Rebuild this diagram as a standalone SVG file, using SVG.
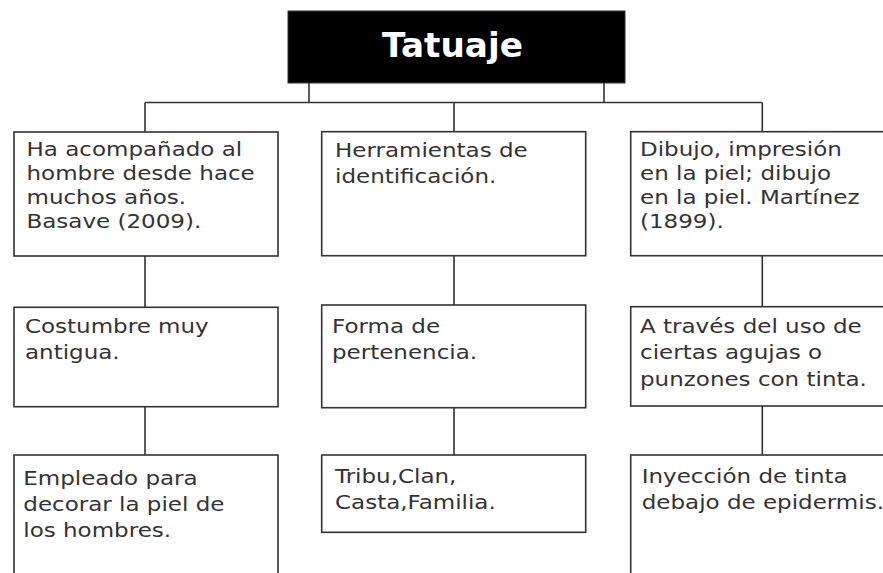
<svg xmlns="http://www.w3.org/2000/svg" width="883" height="573" viewBox="0 0 883 573">
<style>
.box{fill:#fff;stroke:#333;stroke-width:1.6}
.ln{fill:none;stroke:#333;stroke-width:1.6}
.t{font-family:"DejaVu Sans","Liberation Sans",sans-serif;font-size:19.5px;fill:#333}
.title{font-family:"DejaVu Sans","Liberation Sans",sans-serif;font-size:34px;font-weight:bold;fill:#fff}
</style>
<rect width="883" height="573" fill="#fff"/>
<g id="connectors">
<path class="ln" d="M309,83V102.5M604,83V102.5M145,102.5H762.3M145,102.5V132M454,102.5V132M762.3,102.5V132"/>
<path class="ln" d="M145,256V307.3M454,256V305M762.3,256V306.7"/>
<path class="ln" d="M145,406.7V455M454,407.7V455M762.3,406V455"/>
</g>
<g id="title">
<rect x="288" y="11" width="337" height="72" fill="#000" stroke="#333" stroke-width="1"/>
<text class="title" x="382" y="57" textLength="141" lengthAdjust="spacingAndGlyphs">Tatuaje</text>
</g>
<g id="n1">
<rect class="box" x="14" y="132" width="264" height="124"/>
<g class="t" transform="translate(26.5,156) scale(1.18,1)">
<text y="0">Ha acompañado al</text>
<text y="24">hombre desde hace</text>
<text y="48">muchos años.</text>
<text y="72">Basave (2009).</text>
</g>
</g>
<g id="n2">
<rect class="box" x="321.7" y="131.7" width="264" height="124"/>
<g class="t" transform="translate(335,157) scale(1.18,1)">
<text y="0">Herramientas de</text>
<text y="26">identificación.</text>
</g>
</g>
<g id="n3">
<rect class="box" x="630.7" y="131.7" width="270" height="124"/>
<g class="t" transform="translate(640,156) scale(1.18,1)">
<text y="0">Dibujo, impresión</text>
<text y="24">en la piel; dibujo</text>
<text y="48">en la piel. Martínez</text>
<text y="72">(1899).</text>
</g>
</g>
<g id="n4">
<rect class="box" x="14" y="307.3" width="264" height="99.4"/>
<g class="t" transform="translate(25,333) scale(1.18,1)">
<text y="0">Costumbre muy</text>
<text y="26">antigua.</text>
</g>
</g>
<g id="n5">
<rect class="box" x="321.7" y="305" width="264" height="102.7"/>
<g class="t" transform="translate(332,333) scale(1.18,1)">
<text y="0">Forma de</text>
<text y="26">pertenencia.</text>
</g>
</g>
<g id="n6">
<rect class="box" x="630.7" y="306.7" width="270" height="99.3"/>
<g class="t" transform="translate(640,333) scale(1.18,1)">
<text y="0">A través del uso de</text>
<text y="26">ciertas agujas o</text>
<text y="53">punzones con tinta.</text>
</g>
</g>
<g id="n7">
<rect class="box" x="14" y="455" width="264" height="140"/>
<g class="t" transform="translate(23.3,485) scale(1.18,1)">
<text y="0">Empleado para</text>
<text y="26">decorar la piel de</text>
<text y="52">los hombres.</text>
</g>
</g>
<g id="n8">
<rect class="box" x="321.7" y="455" width="264" height="77.3"/>
<g class="t" transform="translate(335,483) scale(1.18,1)">
<text y="0">Tribu,Clan,</text>
<text y="26">Casta,Familia.</text>
</g>
</g>
<g id="n9">
<rect class="box" x="630.7" y="455" width="270" height="140"/>
<g class="t" transform="translate(641.7,483) scale(1.18,1)">
<text y="0">Inyección de tinta</text>
<text y="26">debajo de epidermis.</text>
</g>
</g>
</svg>
